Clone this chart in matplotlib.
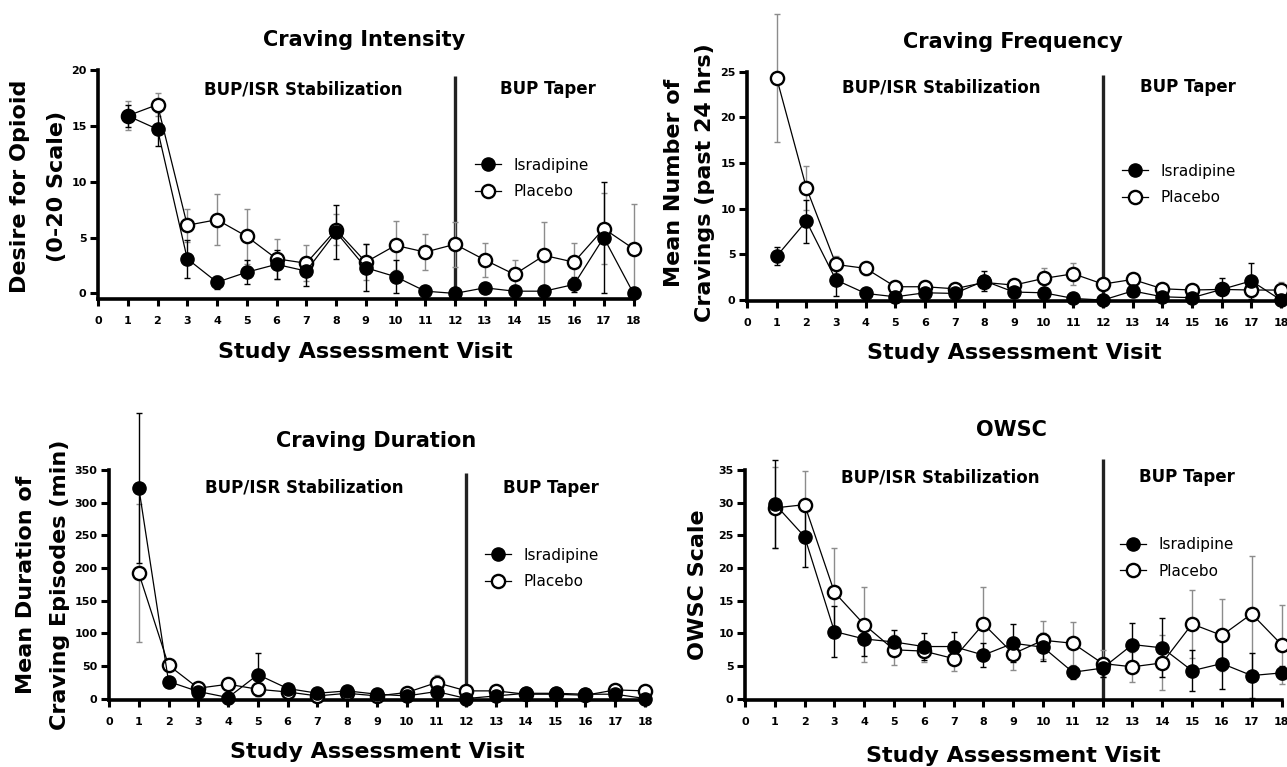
import matplotlib
matplotlib.use("Agg")
import matplotlib.pyplot as plt
from matplotlib.lines import Line2D

# ─── Data ───────────────────────────────────────────────────────────────────

visits = list(range(1, 19))
x_ticks = list(range(0, 19))

# Craving intensity (0-20 scale)
intensity_isr     = [15.9, 14.7, 3.1, 1.0, 1.9, 2.6, 2.0, 5.5, 2.3, 1.5, 0.2, 0.0, 0.5, 0.2, 0.2, 0.8, 5.0, 0.0]
intensity_isr_err = [1.0, 1.5, 1.7, 0.6, 1.1, 1.3, 1.3, 2.4, 2.1, 1.5, 0.2, 0.0, 0.3, 0.2, 0.2, 0.7, 5.0, 0.0]
intensity_pla     = [15.9, 16.9, 6.1, 6.6, 5.1, 3.1, 2.7, 5.7, 2.8, 4.3, 3.7, 4.4, 3.0, 1.7, 3.4, 2.8, 5.8, 4.0]
intensity_pla_err = [1.3, 1.0, 1.5, 2.3, 2.5, 1.8, 1.6, 1.4, 1.6, 2.2, 1.6, 2.0, 1.5, 1.3, 3.0, 1.7, 3.2, 4.0]

# Craving frequency (cravings in past 24 hrs)
frequency_isr     = [4.8, 8.65, 2.2, 0.73, 0.36, 0.8, 0.73, 2.1, 0.88, 0.8, 0.18, 0.0, 1.0, 0.36, 0.26, 1.17, 2.1, 0.0]
frequency_isr_err = [1.0, 2.35, 1.8, 0.3, 0.2, 0.3, 0.3, 1.1, 0.4, 0.4, 0.2, 0.0, 0.6, 0.2, 0.2, 1.3, 1.95, 0.0]
frequency_pla     = [24.3, 12.3, 3.9, 3.47, 1.46, 1.46, 1.24, 1.93, 1.64, 2.37, 2.88, 1.75, 2.26, 1.24, 1.1, 1.17, 1.1, 1.1]
frequency_pla_err = [7.0, 2.4, 0.9, 0.7, 0.3, 0.3, 0.3, 0.5, 0.4, 1.1, 1.2, 0.5, 0.5, 0.3, 0.3, 0.4, 0.6, 0.9]

# Craving duration (min)
duration_isr     = [323, 26, 10.7, 1.5, 36.6, 15.3, 8.1, 11.7, 6.6, 4, 10.7, 0, 4, 8, 8, 6.6, 6.6, 0]
duration_isr_err = [115, 5, 4, 2, 33, 5, 3, 4, 3, 2, 5, 0, 2, 2, 2, 2, 3, 0]
duration_pla     = [192, 51, 15.8, 21.9, 14.2, 10, 4, 8, 4, 9.2, 24.4, 11.7, 11.7, 6.6, 6.6, 5, 13.2, 11.7]
duration_pla_err = [106, 8, 4, 5, 6, 4, 2, 3, 2, 4, 12, 4, 4, 2, 2, 2, 4, 4]

# OWSC scale
owsc_isr     = [29.8, 24.8, 10.3, 9.16, 8.7, 8.0, 8.0, 6.7, 8.5, 7.9, 4.07, 4.7, 8.3, 7.8, 4.3, 5.4, 3.56, 3.97]
owsc_isr_err = [6.7, 4.6, 3.9, 2.6, 1.9, 2.1, 2.3, 1.8, 2.9, 2.1, 1.0, 1.4, 3.3, 4.5, 3.1, 3.9, 3.5, 1.0]
owsc_pla     = [29.2, 29.7, 16.3, 11.35, 7.5, 7.3, 6.16, 11.45, 6.9, 8.96, 8.5, 5.4, 4.9, 5.5, 11.45, 9.7, 13.0, 8.3]
owsc_pla_err = [6.2, 5.2, 6.7, 5.7, 2.3, 1.6, 1.9, 5.7, 2.5, 2.9, 3.3, 2.0, 2.3, 4.2, 5.2, 5.5, 8.8, 6.0]

# ─── Layout (pixel coordinates in a 1287 x 767 canvas) ─────────────────────

W, H = 1287, 767

PANELS = [
    dict(title="Craving Intensity", ylabel="Desire for Opioid\n(0-20 Scale)",
         isr=intensity_isr, isr_err=intensity_isr_err, pla=intensity_pla, pla_err=intensity_pla_err,
         rect=(98, 70, 633.5, 299), ylim=(-0.5, 20), yticks=[0, 5, 10, 15, 20], vtop=19.45,
         title_xy=(364, 40), stab_xy=(303.5, 89), taper_xy=(547.5, 89),
         legend_xy=(475, 178.5), ylabel_xy=(38.5, 186), ls=2.05, xlabel_y=352),
    dict(title="Craving Frequency", ylabel="Mean Number of\nCravings (past 24 hrs)",
         isr=frequency_isr, isr_err=frequency_isr_err, pla=frequency_pla, pla_err=frequency_pla_err,
         rect=(747, 71.7, 1281, 301), ylim=(-0.1, 25), yticks=[0, 5, 10, 15, 20, 25], vtop=24.6,
         title_xy=(1013, 42), stab_xy=(941, 87), taper_xy=(1188, 87),
         legend_xy=(1122, 184.5), ylabel_xy=(689.5, 183), ls=1.72, xlabel_y=353),
    dict(title="Craving Duration", ylabel="Mean Duration of\nCraving Episodes (min)",
         isr=duration_isr, isr_err=duration_isr_err, pla=duration_pla, pla_err=duration_pla_err,
         rect=(109, 470, 645, 699.5), ylim=(-1.5, 350), yticks=[0, 50, 100, 150, 200, 250, 300, 350], vtop=345,
         title_xy=(376, 441), stab_xy=(304.5, 488), taper_xy=(550.5, 488),
         legend_xy=(485, 568.5), ylabel_xy=(43, 585), ls=1.9, xlabel_y=752),
    dict(title="OWSC", ylabel="OWSC Scale",
         isr=owsc_isr, isr_err=owsc_isr_err, pla=owsc_pla, pla_err=owsc_pla_err,
         rect=(745, 470, 1281.5, 699.5), ylim=(-0.1, 35), yticks=[0, 5, 10, 15, 20, 25, 30, 35], vtop=36.7,
         title_xy=(1011, 430), stab_xy=(940, 477), taper_xy=(1186.5, 477),
         legend_xy=(1120, 558), ylabel_xy=(698, 585), ls=1.2, xlabel_y=756),
]

plt.rcParams.update({
    "font.family": "DejaVu Sans",
    "axes.linewidth": 2.6,
})

GREY = "#8c8c8c"


def ax_frac(rect, x, y):
    l, t, r, b = rect
    return (x - l) / (r - l), (b - y) / (b - t)


def draw_panel(fig, p):
    l, t, r, b = p["rect"]
    ax = fig.add_axes([l / W, 1 - b / H, (r - l) / W, (b - t) / H])

    for vals, err, col in ((p["pla"], p["pla_err"], GREY), (p["isr"], p["isr_err"], "black")):
        eb = ax.errorbar(visits, vals, yerr=err, fmt="none", ecolor=col,
                         elinewidth=1.0, capsize=2.4, capthick=1.0, zorder=2)
        for art in eb.get_children():
            art.set_clip_on(False)

    ax.plot(visits, p["pla"], "-o", color="black", lw=0.9, ms=9.5,
            mfc="white", mec="black", mew=1.7, zorder=3, clip_on=False)
    ax.plot(visits, p["isr"], "-o", color="black", lw=0.9, ms=9.5,
            mfc="black", mec="black", zorder=4, clip_on=False)

    ax.vlines(12, p["ylim"][0], p["vtop"], color="#222222", lw=2.4, zorder=1, clip_on=False)

    ax.set_xlim(0, 18)
    ax.set_ylim(*p["ylim"])
    ax.set_xticks(x_ticks, labels=[str(v) for v in x_ticks], fontsize=8, fontweight="bold")
    ax.set_yticks(p["yticks"], labels=[str(v) for v in p["yticks"]], fontsize=8, fontweight="bold")
    ax.tick_params(axis="x", direction="out", length=5, width=2.2, pad=7.5)
    ax.tick_params(axis="y", direction="out", length=5.8, width=2.2, pad=2.4)
    ax.spines["top"].set_visible(False)
    ax.spines["right"].set_visible(False)
    ax.patch.set_alpha(0)

    tx, ty = ax_frac(p["rect"], *p["title_xy"])
    ax.set_title(p["title"], x=tx, y=ty, pad=0, va="center", fontsize=15, fontweight="bold")

    ax.set_xlabel("Study Assessment Visit", fontsize=16, fontweight="bold")
    ax.xaxis.label.set_va("center")
    ax.xaxis.set_label_coords(*ax_frac(p["rect"], (l + r) / 2, p["xlabel_y"]))

    ax.set_ylabel(p["ylabel"], fontsize=16, fontweight="bold", linespacing=p["ls"])
    ax.yaxis.label.set_va("center")
    ax.yaxis.set_label_coords(*ax_frac(p["rect"], *p["ylabel_xy"]))

    for txt, key in (("BUP/ISR Stabilization", "stab_xy"), ("BUP Taper", "taper_xy")):
        ax.text(*ax_frac(p["rect"], *p[key]), txt, transform=ax.transAxes,
                ha="center", va="center", fontsize=12, fontweight="bold")

    handles = [
        Line2D([], [], color="black", lw=0.9, marker="o", ms=9.5, mfc="black", mec="black"),
        Line2D([], [], color="black", lw=0.9, marker="o", ms=9.5, mfc="white", mec="black", mew=1.7),
    ]
    ax.legend(handles, ["Isradipine", "Placebo"], loc="center left",
              bbox_to_anchor=ax_frac(p["rect"], *p["legend_xy"]),
              frameon=False, fontsize=11, borderpad=0, borderaxespad=0,
              handlelength=1.7, handletextpad=0.8, labelspacing=0.75)
    return ax


fig = plt.figure(figsize=(W / 100, H / 100), dpi=100)
for panel in PANELS:
    draw_panel(fig, panel)

fig.savefig("out.png", dpi=100)
